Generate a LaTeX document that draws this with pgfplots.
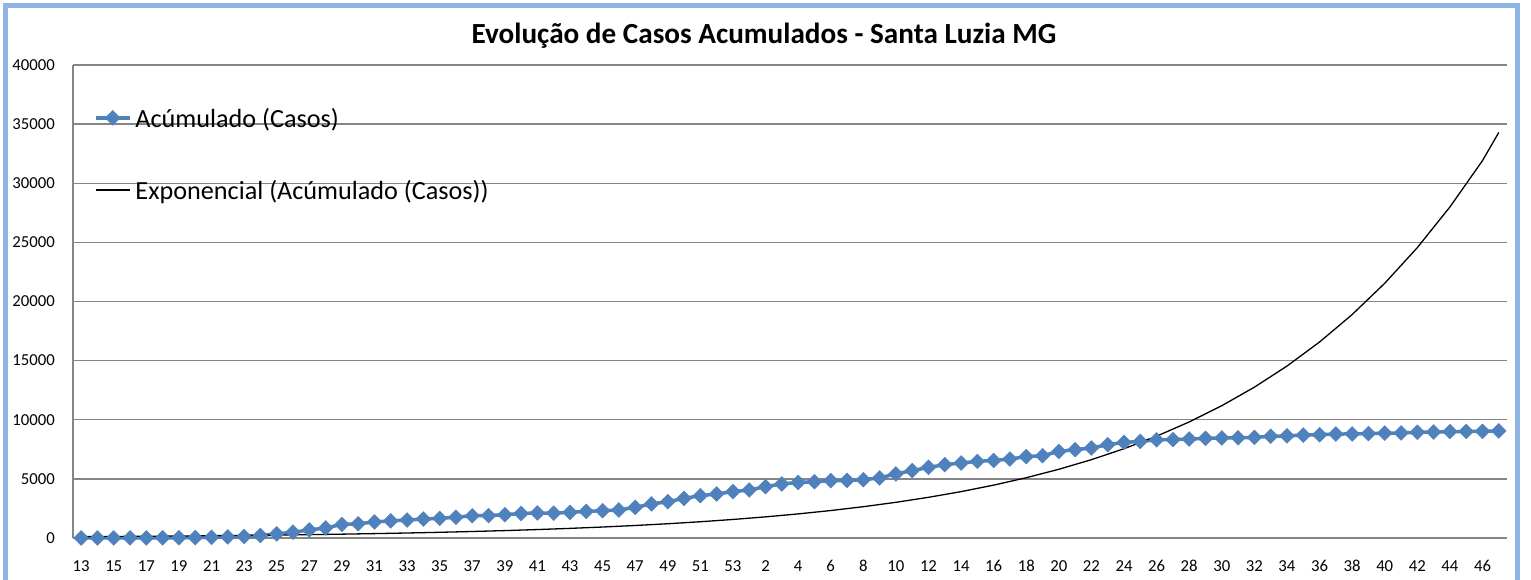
\documentclass[border=0pt]{standalone}
\usepackage{pgfplots}
\pgfplotsset{compat=1.18}
\usepackage{fontspec}
\setmainfont{Carlito}
\definecolor{excelblue}{RGB}{79,129,189}
\definecolor{gridgray}{RGB}{134,134,134}
\definecolor{borderblue}{RGB}{141,180,226}
\begin{document}
\begin{tikzpicture}
\useasboundingbox (0,0) rectangle (1531bp,580bp);
\fill[white] (0,0) rectangle (1531bp,580bp);
\draw[borderblue, line width=4.5bp] (5.5bp,0bp) -- (5.5bp,574.5bp) -- (1517.5bp,574.5bp) -- (1517.5bp,0bp);
\node[anchor=base, inner sep=0pt, font=\fontsize{29.3}{35}\selectfont\bfseries] at (764bp,536.7bp) {Evolução de Casos Acumulados - Santa Luzia MG};
\begin{axis}[
  at={(73bp,42bp)}, anchor=south west,
  scale only axis, width=1434bp, height=473bp,
  xmin=-0.5, xmax=87.5, ymin=0, ymax=40000,
  axis lines=left,
  axis line style={draw=gridgray, line width=1.3bp, -},
  major tick length=0pt,
  scaled y ticks=false, scaled x ticks=false,
  ymajorgrids,
  grid style={draw=gridgray, line width=1.3bp},
  clip=false,
  ytick={0,5000,10000,15000,20000,25000,30000,35000,40000},
  yticklabels={0,5000,10000,15000,20000,25000,30000,35000,40000},
  xtick={0,2,...,86},
  xticklabels={13,15,17,19,21,23,25,27,29,31,33,35,37,39,41,43,45,47,49,51,53,2,4,6,8,10,12,14,16,18,20,22,24,26,28,30,32,34,36,38,40,42,44,46},
  tick label style={font=\fontsize{16.8}{20}\selectfont, text=black},
  yticklabel style={inner sep=0pt, anchor=east, xshift=-18bp},
  xticklabel style={inner sep=0pt, anchor=north, yshift=-22.5bp, text height=11bp, text depth=0pt},
  legend style={at={(axis description cs:0.0145,0.909)}, anchor=north west, draw=none, fill=none,
    inner sep=0pt, row sep=53bp, column sep=4bp, nodes={inner sep=0pt, text depth=0pt},
    font=\fontsize{26.3}{30}\selectfont},
  legend cell align=left,
  legend image code/.code={\draw[mark repeat=2,mark phase=2,#1] plot coordinates {(0bp,0bp) (17bp,0bp) (34bp,0bp)};},
]
\addplot[color=excelblue, line width=3.5bp, mark=square*, mark size=5.3bp,
  mark options={rotate=45, solid, fill=excelblue, draw=excelblue, line width=0.3bp}] coordinates {
(0,1)(1,2)(2,3)(3,5)(4,10)(5,15)(6,20)(7,30)(8,60)(9,90)(10,120)(11,210)(12,350)(13,490)(14,680)(15,850)(16,1150)(17,1200)(18,1360)(19,1450)(20,1520)(21,1600)(22,1660)(23,1760)(24,1880)(25,1900)(26,1970)(27,2070)(28,2120)(29,2100)(30,2170)(31,2250)(32,2310)(33,2370)(34,2590)(35,2880)(36,3070)(37,3350)(38,3580)(39,3720)(40,3920)(41,4060)(42,4340)(43,4570)(44,4700)(45,4760)(46,4850)(47,4870)(48,4930)(49,5080)(50,5420)(51,5700)(52,5970)(53,6200)(54,6340)(55,6480)(56,6560)(57,6680)(58,6880)(59,6960)(60,7320)(61,7470)(62,7610)(63,7890)(64,8080)(65,8170)(66,8300)(67,8320)(68,8370)(69,8420)(70,8460)(71,8470)(72,8510)(73,8600)(74,8640)(75,8700)(76,8730)(77,8790)(78,8800)(79,8830)(80,8870)(81,8880)(82,8940)(83,8960)(84,9000)(85,9010)(86,9020)(87,9060)
};
\addlegendentry{Acúmulado (Casos)}
\addplot[color=black, line width=1.3bp, no marks] coordinates {
(0,114)(2,130)(4,148)(6,169)(8,193)(10,220)(12,250)(14,285)(16,325)(18,371)(20,423)(22,482)(24,550)(26,626)(28,714)(30,814)(32,928)(34,1058)(36,1206)(38,1375)(40,1568)(42,1787)(44,2037)(46,2322)(48,2647)(50,3018)(52,3440)(54,3922)(56,4471)(58,5097)(60,5811)(62,6624)(64,7552)(66,8609)(68,9814)(70,11188)(72,12754)(74,14540)(76,16576)(78,18896)(80,21542)(82,24558)(84,27996)(86,31915)(87,34300)
};
\addlegendentry{Exponencial (Acúmulado (Casos))}
\end{axis}
\end{tikzpicture}
\end{document}
